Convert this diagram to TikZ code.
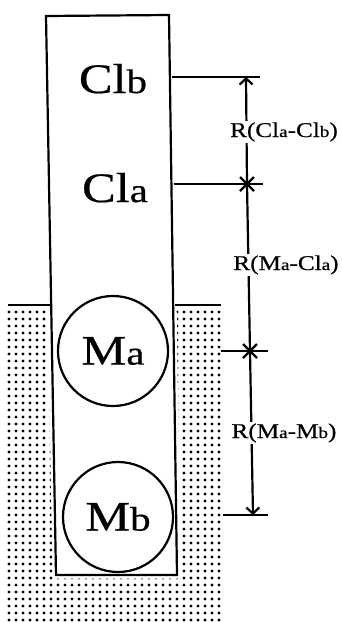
\documentclass[tikz,border=0pt]{standalone}
\usepackage{fontspec}
\setmainfont{Liberation Serif}[FakeBold=0.5]
\usetikzlibrary{arrows.meta}

\newcommand{\widen}[1]{\scalebox{1.2}[1]{#1}}
\newcommand{\bsub}[1]{{\fontsize{34}{34}\selectfont #1}}
\newcommand{\lsub}[1]{{\fontsize{16}{16}\selectfont #1}}

\begin{document}
\begin{tikzpicture}[x=1pt,y=-1pt,line width=2.2pt,>={Straight Barb[length=6pt,width=13pt]},
 big/.style={font=\fontsize{42}{42}\selectfont,anchor=base,inner sep=0pt},
 atom/.style={draw,circle,minimum size=110pt,inner sep=0pt,font=\fontsize{42}{42}\selectfont},
 dimlabel/.style={fill=white,anchor=base,inner sep=1.5pt,font=\fontsize{21}{21}\selectfont}]
\useasboundingbox (0,0) rectangle (342,622);
% ground
\foreach \i in {0,...,30}
  \foreach \j in {0,...,44}
    \fill (9+7*\i,312+7*\j) circle (1.7pt);
\coordinate (tl) at (46,16);
\coordinate (tr) at (169,15);
\coordinate (br) at (177,575);
\coordinate (bl) at (56,575);
\path[fill=white,draw=white,line width=7pt] (tl) -- (tr) -- (br) -- (bl) -- cycle;
\path[fill=white] (0,0) rectangle (342,308);
\draw (tl) -- (tr) -- (br) -- (bl) -- cycle;
\coordinate (gl1) at (8,305);
\coordinate (gl2) at (51,305);
\coordinate (gr1) at (175,305);
\coordinate (gr2) at (221,305);
\draw (gl1) -- (gl2);
\draw (gr1) -- (gr2);
% sites
\node[big] (Clb) at (113,93) {\widen{Cl\bsub{b}}};
\node[big] (Cla) at (115,202) {\widen{Cl\bsub{a}}};
\node[atom] (Ma) at (113,351) {\widen{M\bsub{a}}};
\node[atom] (Mb) at (118,517) {\widen{M\bsub{b}}};
% dimensions
\coordinate (e1) at (172,77);  \coordinate (t1) at (246,77);  \coordinate (f1) at (260,77);
\coordinate (e2) at (174,184); \coordinate (m1) at (247,184); \coordinate (f2) at (263,184);
\coordinate (e3) at (221,351); \coordinate (m2) at (250,351); \coordinate (f3) at (268,351);
\coordinate (e4) at (223,515); \coordinate (b1) at (253,515); \coordinate (f4) at (268,515);
\draw (e1) -- (f1);
\draw (e2) -- (f2);
\draw (e3) -- (f3);
\draw (e4) -- (f4);
\draw[->] (m1) -- (t1);
\draw (m1) -- (m2);
\draw[->] (m2) -- (b1);
\draw (m1) +(-7,-7) -- +(7,7) (m1) +(-7,7) -- +(7,-7);
\draw (m2) +(-7,-7) -- +(7,7) (m2) +(-7,7) -- +(7,-7);
\node[dimlabel] (r1) at (284,137) {\widen{R(Cl\lsub{a}-Cl\lsub{b})}};
\node[dimlabel] (r2) at (286,270) {\widen{R(M\lsub{a}-Cl\lsub{a})}};
\node[dimlabel] (r3) at (284,438) {\widen{R(M\lsub{a}-M\lsub{b})}};
\end{tikzpicture}
\end{document}
